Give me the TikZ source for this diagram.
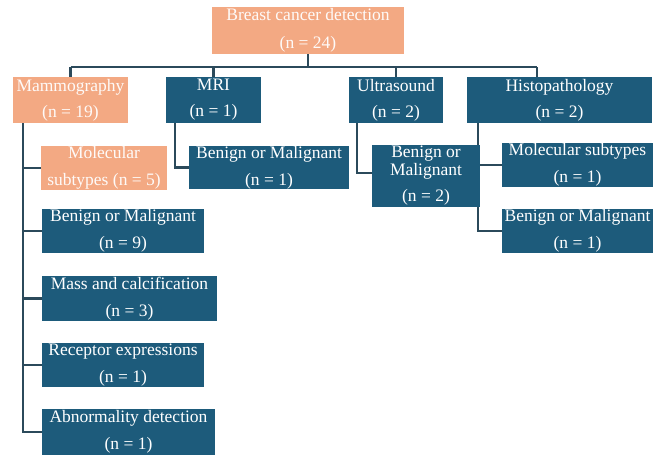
\documentclass[tikz,border=0pt]{standalone}
\usepackage{fontspec}
\setmainfont{Liberation Serif}
\pgfdeclarelayer{bg}
\pgfsetlayers{bg,main}
\definecolor{dblue}{HTML}{1D5B7B}
\definecolor{salmon}{HTML}{F3A983}
\definecolor{lnc}{HTML}{2B4A5B}
\begin{document}
\begin{tikzpicture}[x=1pt,y=-1pt,
  box/.style={fill=dblue, text=white, inner sep=0pt, align=center,
    font=\fontsize{17.5}{27}\selectfont},
  sbox/.style={box, fill=salmon, text=white!94!salmon},
  conn/.style={draw=lnc, line width=2.2pt}]
\useasboundingbox (0,0) rectangle (665,456);
% level 0
\node[sbox, minimum width=192pt, minimum height=47pt, font=\fontsize{17.5}{28}\selectfont] (root) at (308,30.5) {Breast cancer detection\\(n = 24)};
% level 1
\node[sbox, minimum width=115pt, minimum height=46pt, font=\fontsize{17.5}{26}\selectfont] (mam) at (70.5,100) {Mammography\\(n = 19)};
\node[box, minimum width=95pt, minimum height=46pt, font=\fontsize{17.5}{26}\selectfont] (mri) at (213.5,100) {MRI\\(n = 1)};
\node[box, minimum width=94pt, minimum height=46pt, font=\fontsize{17.5}{26}\selectfont] (us) at (396,100) {Ultrasound\\(n = 2)};
\node[box, minimum width=185pt, minimum height=46pt, font=\fontsize{17.5}{26}\selectfont] (his) at (559.5,100) {Histopathology\\(n = 2)};
% mammography children
\node[sbox, minimum width=126pt, minimum height=44pt] (mol) at (104,168) {Molecular\\subtypes (n = 5)};
\node[box, minimum width=162pt, minimum height=44pt] (mbm) at (123,231) {Benign or Malignant\\(n = 9)};
\node[box, minimum width=175pt, minimum height=45pt] (mass) at (129.5,298.5) {Mass and calcification\\(n = 3)};
\node[box, minimum width=162pt, minimum height=44pt] (rec) at (123,365) {Receptor expressions\\(n = 1)};
\node[box, minimum width=173pt, minimum height=46pt] (abn) at (128.5,432) {Abnormality detection\\(n = 1)};
% MRI child
\node[box, minimum width=160pt, minimum height=43pt] (mric) at (269,167.5) {Benign or Malignant\\(n = 1)};
% Ultrasound child
\node[box, minimum width=108pt, minimum height=62pt, font=\fontsize{17.5}{22}\selectfont] (usc) at (426,176) {Benign or\\[-4pt]Malignant\\[4pt](n = 2)};
% Histopathology children
\node[box, minimum width=151pt, minimum height=44pt] (hmol) at (577.5,165) {Molecular subtypes\\(n = 1)};
\node[box, minimum width=151pt, minimum height=44pt] (hbm) at (577.5,231) {Benign or Malignant\\(n = 1)};
% connector anchors
\coordinate (bus) at (0,67);
\coordinate (hstem) at (537,77);
\coordinate (mv) at (23,123);
\coordinate (mriv) at (175,123);
\coordinate (usv) at (357,123);
\coordinate (hv) at (478,123);
\begin{pgfonlayer}{bg}
\draw[conn] (root.south) -- (root.south |- bus);
\draw[conn] (mam.north |- bus) -- (hstem |- bus);
\draw[conn] (mam.north |- bus) -- (mam.north);
\draw[conn] (mri.north |- bus) -- (mri.north);
\draw[conn] (us.north |- bus) -- (us.north);
\draw[conn] (hstem |- bus) -- (hstem);
\draw[conn] (mv) |- (abn.west);
\draw[conn] (mv) |- (mol.west);
\draw[conn] (mv) |- (mbm.west);
\draw[conn] (mv) |- (mass.west);
\draw[conn] (mv) |- (rec.west);
\draw[conn] (mriv) |- (mric.west);
\draw[conn] (usv) |- ([yshift=3pt]usc.west);
\draw[conn] (hv) |- (hbm.west);
\draw[conn] (hv) |- (hmol.west);
\end{pgfonlayer}
\end{tikzpicture}
\end{document}
